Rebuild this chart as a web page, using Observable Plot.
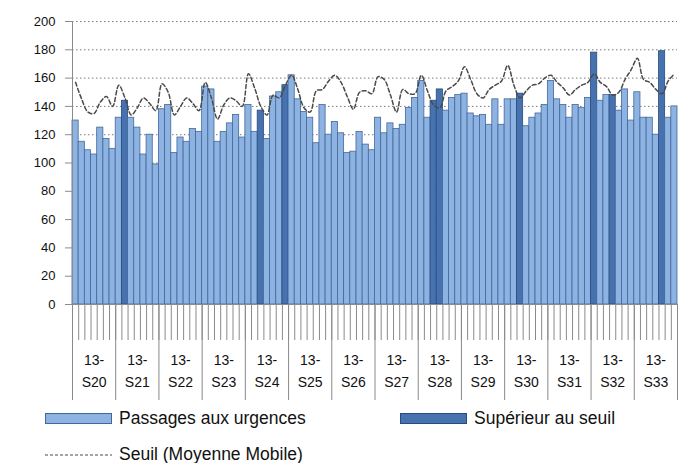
<!DOCTYPE html>
<html>
<head>
<meta charset="utf-8">
<script src="https://cdn.jsdelivr.net/npm/d3@7"></script>
<script src="https://cdn.jsdelivr.net/npm/@observablehq/plot@0.6"></script>
<style>
  html, body { margin: 0; padding: 0; background: #fff; }
  body { width: 683px; height: 463px; overflow: hidden; font-family: "Liberation Sans", Arial, sans-serif; }
  #wrap { position: relative; width: 683px; height: 463px; }
  #legend { position: absolute; left: 0; top: 400px; width: 683px; height: 63px; font-size: 17.5px; color: #111; }
  .item { position: absolute; display: flex; align-items: center; white-space: nowrap; }
  .sw { width: 67px; height: 11px; margin-right: 7px; box-sizing: border-box; }
</style>
</head>
<body>
<div id="wrap">
  <div id="chart"></div>
  <div id="legend"></div>
</div>
<script>
// ---- data ----
const weekLabels = ["13-\nS20","13-\nS21","13-\nS22","13-\nS23","13-\nS24","13-\nS25","13-\nS26",
                    "13-\nS27","13-\nS28","13-\nS29","13-\nS30","13-\nS31","13-\nS32","13-\nS33"];

// Passages aux urgences (daily)
const passages = [
  130,115,109,106,125,117,110,   // S20
  132,144,132,125,106,120, 99,   // S21
  138,141,107,118,115,124,122,   // S22
  154,152,115,122,128,134,118,   // S23
  141,122,137,117,147,150,155,   // S24
  162,145,136,132,114,141,120,   // S25
  129,121,107,108,122,113,109,   // S26
  132,121,128,124,127,139,146,   // S27
  158,132,144,152,137,146,148,   // S28
  149,135,133,134,127,145,127,   // S29
  145,145,149,126,132,135,141,   // S30
  158,145,141,132,141,139,146,   // S31
  178,144,148,148,137,152,130,   // S32
  150,132,132,120,179,132,140    // S33
];

// Days flagged "Supérieur au seuil" (1-based day number)
const superieurDays = [9, 31, 35, 59, 60, 73, 85, 88, 96];

// Seuil (Moyenne Mobile)
const seuil = [
  157,145,136,135,143,147,140,
  155,146,134,139,146,142,137,
  156,150,134,140,146,142,137,
  157,146,131,141,146,144,140,
  163,153,140,134,148,146,155,
  162,152,139,136,151,152,158,
  162,157,147,138,150,151,149,
  161,159,148,136,152,149,149,
  162,151,141,139,151,154,158,
  168,159,149,146,152,155,158,
  169,155,146,151,155,156,160,
  162,157,153,148,152,155,157,
  163,157,154,148,150,159,166,
  174,159,157,152,149,158,163
];

const yTicks = [0,20,40,60,80,100,120,140,160,180,200];

// ---- table ----
const rows = passages.map((v, i) => ({
  day: i, value: v, seuil: seuil[i], sup: superieurDays.includes(i + 1)
}));
const nDays = passages.length;
const weekStarts = d3.range(0, nDays + 1, 7);
const weekMids = weekLabels.map((_, w) => w * 7 + 3.5);

const lightFill = "#8db3e2", lightStroke = "#44679a";
const darkFill = "#4673b0", darkStroke = "#2a4a7c";

const chart = Plot.plot({
  width: 683,
  height: 400,
  marginLeft: 72,
  marginRight: 6,
  marginTop: 21,
  marginBottom: 96,
  style: { fontFamily: "'Liberation Sans', Arial, sans-serif", color: "#111", background: "#fff" },
  x: { type: "linear", domain: [0, nDays], axis: null },
  y: { domain: [0, 200], axis: null },
  marks: [
    Plot.gridY(yTicks.filter(d => d > 0), { stroke: "#7a7a7a", strokeOpacity: 1, strokeDasharray: "1.5,2.5", strokeWidth: 1 }),
    Plot.rectY(rows, {
      x1: "day", x2: d => d.day + 1, y: "value",
      fill: d => d.sup ? darkFill : lightFill,
      stroke: d => d.sup ? darkStroke : lightStroke,
      strokeWidth: 0.8
    }),
    Plot.lineY(rows, {
      x: d => d.day + 0.5, y: "seuil",
      stroke: "#4a4a4a", strokeWidth: 1.5, strokeDasharray: "4,2.5", curve: "catmull-rom"
    }),
    Plot.ruleX([0], { stroke: "#8a8a8a" }),
    Plot.ruleY([0], { stroke: "#8a8a8a" }),
    Plot.axisY({ ticks: yTicks, tickSize: 7, tickPadding: 10, fontSize: 13, stroke: "#8a8a8a", label: null }),
    Plot.axisX({ ticks: d3.range(0, nDays + 1), tickSize: 36, tickFormat: () => "", stroke: "#8a8a8a", label: null }),
    Plot.axisX({ ticks: weekStarts, tickSize: 96, tickFormat: () => "", stroke: "#8a8a8a", label: null }),
    Plot.axisX({ ticks: weekMids, tickSize: 0, tickPadding: 45, fontSize: 14, lineHeight: 1.55,
                 tickFormat: (d) => weekLabels[Math.round((d - 3.5) / 7)], label: null })
  ]
});
document.getElementById("chart").appendChild(chart);

// ---- legend ----
const legend = document.getElementById("legend");
legend.innerHTML = `
  <div class="item" style="left:45px; top:8px;"><div class="sw" style="background:${lightFill}; border:1px solid ${lightStroke};"></div>Passages aux urgences</div>
  <div class="item" style="left:400px; top:8px;"><div class="sw" style="background:${darkFill}; border:1px solid ${darkStroke};"></div>Supérieur au seuil</div>
  <div class="item" style="left:45px; top:44px;"><svg width="67" height="10" style="margin-right:7px"><line x1="0" x2="67" y1="5" y2="5" stroke="#4a4a4a" stroke-width="1.2" stroke-dasharray="3,2"/></svg>Seuil (Moyenne Mobile)</div>
`;
</script>
</body>
</html>
